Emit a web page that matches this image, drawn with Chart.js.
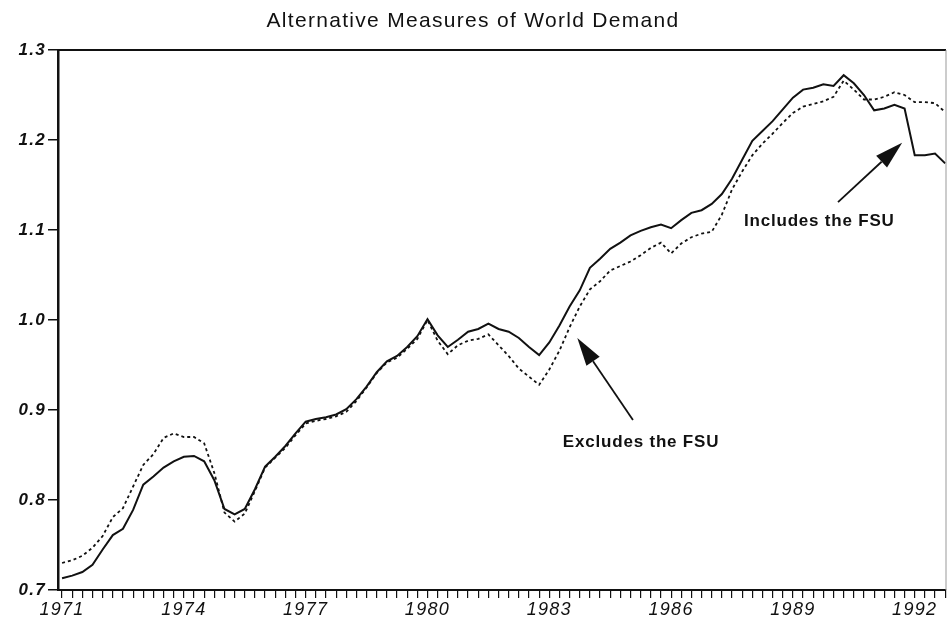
<!DOCTYPE html>
<html>
<head>
<meta charset="utf-8">
<script src="https://cdn.jsdelivr.net/npm/chart.js@4.4.1/dist/chart.umd.min.js"></script>
<style>
  html, body { margin: 0; padding: 0; background: #fff; }
</style>
</head>
<body>
<canvas id="demand-chart" width="948" height="622"></canvas>
<script>
const firstYear = 1971;
const lastYear = 1992;
const labelYears = [1971, 1974, 1977, 1980, 1983, 1986, 1989, 1992];

// quarterly index values, 1971Q1 .. 1992Q4
const includesFSU = [
  0.713, 0.716, 0.720, 0.728, 0.745, 0.761, 0.768, 0.789,
  0.817, 0.826, 0.836, 0.843, 0.848, 0.849, 0.843, 0.822,
  0.790, 0.784, 0.790, 0.812, 0.837, 0.848, 0.860, 0.874,
  0.887, 0.890, 0.892, 0.895, 0.901, 0.912, 0.926, 0.942,
  0.954, 0.960, 0.970, 0.982, 1.001, 0.983, 0.970, 0.978,
  0.987, 0.990, 0.996, 0.990, 0.987, 0.980, 0.970, 0.961,
  0.975, 0.994, 1.015, 1.033, 1.058, 1.068, 1.079, 1.086,
  1.094, 1.099, 1.103, 1.106, 1.102, 1.111, 1.119, 1.122,
  1.129, 1.140, 1.157, 1.178, 1.199, 1.210, 1.221, 1.234,
  1.247, 1.256, 1.258, 1.262, 1.260, 1.272, 1.263, 1.250,
  1.233, 1.235, 1.239, 1.235, 1.183, 1.183, 1.185, 1.174
];
const excludesFSU = [
  0.730, 0.733, 0.738, 0.747, 0.760, 0.781, 0.791, 0.815,
  0.839, 0.851, 0.869, 0.874, 0.870, 0.870, 0.863, 0.830,
  0.786, 0.776, 0.785, 0.810, 0.836, 0.847, 0.858, 0.872,
  0.885, 0.888, 0.890, 0.893, 0.898, 0.910, 0.925, 0.941,
  0.953, 0.958, 0.968, 0.979, 1.000, 0.977, 0.962, 0.972,
  0.977, 0.979, 0.984, 0.972, 0.960, 0.946, 0.937, 0.928,
  0.945, 0.966, 0.992, 1.015, 1.034, 1.043, 1.055, 1.060,
  1.065, 1.072, 1.080, 1.086, 1.074, 1.085, 1.092, 1.096,
  1.098, 1.117, 1.145, 1.165, 1.183, 1.196, 1.207, 1.219,
  1.230, 1.237, 1.240, 1.243, 1.248, 1.266, 1.256, 1.245,
  1.245, 1.248, 1.253, 1.250, 1.242, 1.242, 1.241, 1.231
];

const quarters = [];
for (let y = firstYear; y <= lastYear; y++) {
  for (let q = 0; q < 4; q++) quarters.push(y + q / 4);
}

function toPoints(values) {
  return values.map((v, i) => ({ x: quarters[i], y: v }));
}

const ink = "#111";
const fontFamily = "'Liberation Sans', Arial, Helvetica, sans-serif";

// callouts, given in data units
const notes = [
  { text: "Includes the FSU", at: [1989.65, 1.110], from: [1990.11, 1.131], to: [1991.69, 1.197] },
  { text: "Excludes the FSU", at: [1985.26, 0.864], from: [1985.06, 0.889], to: [1983.69, 0.980] },
];

// scanned lettering is a bit wide, so space the axis/title text out a little
const wideText = {
  id: "wideText",
  beforeDraw(chart) { chart.ctx.letterSpacing = "1.3px"; },
  beforeDatasetsDraw(chart) { chart.ctx.letterSpacing = "0px"; },
};

const frame = {
  id: "frame",
  afterDraw(chart) {
    const { ctx, chartArea: a } = chart;
    ctx.save();
    ctx.strokeStyle = ink;
    ctx.lineWidth = 2;
    ctx.beginPath();
    ctx.moveTo(a.left, a.top);
    ctx.lineTo(a.right, a.top);
    ctx.stroke();
    ctx.strokeStyle = "#999";
    ctx.lineWidth = 1;
    ctx.beginPath();
    ctx.moveTo(a.right, a.top);
    ctx.lineTo(a.right, a.bottom);
    ctx.stroke();
    ctx.restore();
  },
};

const callouts = {
  id: "callouts",
  afterDraw(chart) {
    const { ctx } = chart;
    const xs = chart.scales.x;
    const ys = chart.scales.y;
    ctx.save();
    ctx.fillStyle = ink;
    ctx.strokeStyle = ink;
    ctx.letterSpacing = "0.8px";
    ctx.font = "bold 17px " + fontFamily;
    ctx.textAlign = "center";
    ctx.textBaseline = "middle";
    notes.forEach((n) => {
      ctx.fillText(n.text, xs.getPixelForValue(n.at[0]), ys.getPixelForValue(n.at[1]));
      const x0 = xs.getPixelForValue(n.from[0]);
      const y0 = ys.getPixelForValue(n.from[1]);
      const x1 = xs.getPixelForValue(n.to[0]);
      const y1 = ys.getPixelForValue(n.to[1]);
      const ang = Math.atan2(y1 - y0, x1 - x0);
      const len = 28, half = 8;
      const bx = x1 - len * Math.cos(ang);
      const by = y1 - len * Math.sin(ang);
      ctx.lineWidth = 1.8;
      ctx.beginPath();
      ctx.moveTo(x0, y0);
      ctx.lineTo(bx, by);
      ctx.stroke();
      ctx.beginPath();
      ctx.moveTo(x1, y1);
      ctx.lineTo(bx + half * Math.sin(ang), by - half * Math.cos(ang));
      ctx.lineTo(bx - half * Math.sin(ang), by + half * Math.cos(ang));
      ctx.closePath();
      ctx.fill();
    });
    ctx.restore();
  },
};

const ctx = document.getElementById("demand-chart").getContext("2d");

const demandChart = new Chart(ctx, {
  type: "line",
  data: {
    datasets: [
      {
        label: "Includes the FSU",
        data: toPoints(includesFSU),
        borderColor: ink,
        borderWidth: 2,
        pointRadius: 0,
        tension: 0,
      },
      {
        label: "Excludes the FSU",
        data: toPoints(excludesFSU),
        borderColor: ink,
        borderWidth: 1.8,
        borderDash: [3, 3],
        pointRadius: 0,
        tension: 0,
      },
    ],
  },
  options: {
    responsive: false,
    animation: false,
    devicePixelRatio: 1,
    layout: { padding: { left: 0, right: 2, top: 0, bottom: 0 } },
    plugins: {
      legend: { display: false },
      tooltip: { enabled: false },
      title: {
        display: true,
        text: "Alternative Measures of World Demand",
        color: ink,
        font: { family: fontFamily, size: 21, weight: "normal" },
        padding: { top: 8.4, bottom: 16.4 },
      },
    },
    scales: {
      x: {
        type: "linear",
        min: 1970.9,
        max: 1992.77,
        afterFit(scale) { scale.height = 32; },
        border: { display: true, color: ink, width: 2 },
        grid: { drawOnChartArea: false, drawTicks: true, tickLength: 8, color: ink, lineWidth: 1.2 },
        ticks: {
          stepSize: 0.25,
          maxTicksLimit: 200,
          includeBounds: false,
          autoSkip: false,
          maxRotation: 0,
          padding: 1,
          color: ink,
          font: { family: fontFamily, size: 18, style: "italic" },
          callback: (value) => (labelYears.includes(value) ? String(value) : ""),
        },
      },
      y: {
        min: 0.7,
        max: 1.3,
        afterFit(scale) { scale.width = 58; },
        border: { display: true, color: ink, width: 2.5 },
        grid: { drawOnChartArea: false, drawTicks: true, tickLength: 10, color: ink, lineWidth: 1.5 },
        ticks: {
          stepSize: 0.1,
          padding: 2,
          color: ink,
          font: { family: fontFamily, size: 17, style: "italic", weight: "bold" },
          callback: (value) => value.toFixed(1),
        },
      },
    },
  },
  plugins: [wideText, frame, callouts],
});
</script>
</body>
</html>
